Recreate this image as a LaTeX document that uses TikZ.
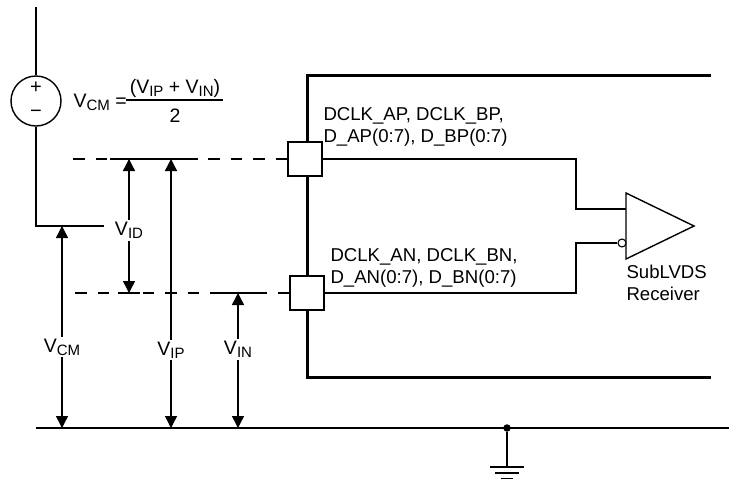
\documentclass[tikz,border=0pt]{standalone}
\usepackage{fontspec}
\setmainfont{Liberation Sans}
\usetikzlibrary{arrows.meta}
\newcommand\sbs[1]{\raisebox{-3pt}{\fontsize{15}{15}\selectfont #1}}
\newcommand\vfont{\fontsize{19.5}{22}\selectfont}
\begin{document}
\begin{tikzpicture}[x=1pt,y=-1pt,
  font=\fontsize{18.6}{22}\selectfont,
  wire/.style={line width=1.4pt},
  boxline/.style={line width=3pt},
  thickseg/.style={line width=2.6pt},
  dashline/.style={line width=2pt, dash pattern=on 11.5pt off 11pt},
  dimarrow/.style={line width=1.4pt, {Triangle[length=12pt,width=12pt]}-{Triangle[length=12pt,width=12pt]}},
  lab/.style={fill=white, inner sep=2pt, font=\vfont},
  pad/.style={draw, fill=white, line width=1.4pt, minimum size=34pt, inner sep=0pt},
]
\useasboundingbox (0,0) rectangle (729,480);

% voltage source
\node[circle, draw, wire, minimum size=50pt, inner sep=0pt] (src) at (36,101) {};
\node (plus) at (36,88) {\fontsize{20}{20}\selectfont +};
\node (minus) at (36,114) {\fontsize{20}{20}\selectfont −};
\coordinate (srctop) at (36,7);
\coordinate (srccorner) at (36,226);
\coordinate (srcend) at (104,226);
\draw[wire] (srctop) -- (src.north);
\draw[wire] (src.south) -- (srccorner) -- (srcend);
\coordinate (vcmsegA) at (43,226);
\coordinate (vcmsegB) at (79,226);
\draw[thickseg] (vcmsegA) -- (vcmsegB);

% formula
\node[anchor=west, font=\vfont] (eqL) at (70,102) {V\sbs{CM} =};
\node[font=\vfont] (num) at (175,88) {(V\sbs{IP} + V\sbs{IN})};
\coordinate (barA) at (126,100);
\coordinate (barB) at (223,100);
\draw[wire] (barA) -- (barB);
\node[font=\vfont] (den) at (175,116) {2};

% receiver box
\coordinate (boxTR) at (711,75);
\coordinate (boxTL) at (307,75);
\coordinate (boxBL) at (307,377);
\coordinate (boxBR) at (711,377);
\draw[boxline] (boxTR) -- (boxTL) -- (boxBL) -- (boxBR);

% pads
\node[pad] (padP) at (305,159) {};
\node[pad] (padN) at (307,293) {};

\node[anchor=west, align=left] (labP) at (320,127) {DCLK\_AP, DCLK\_BP,\\D\_AP(0:7), D\_BP(0:7)};
\node[anchor=west, align=left] (labN) at (327,268) {DCLK\_AN, DCLK\_BN,\\D\_AN(0:7), D\_BN(0:7)};

% receiver
\coordinate (triA) at (626,193);
\coordinate (triB) at (626,259);
\coordinate (triC) at (694,226);
\draw[wire] (triA) -- (triC) -- (triB) -- cycle;
\node[circle, draw, fill=white, line width=1.1pt, minimum size=8pt, inner sep=0pt] (bub) at (622,243) {};
\coordinate (inP) at (626,209);
\coordinate (jogP1) at (576,159);
\coordinate (jogP2) at (576,209);
\coordinate (jogN1) at (576,293);
\coordinate (jogN2) at (576,243);
\draw[wire] (padP.east) -- (jogP1) -- (jogP2) -- (inP);
\draw[wire] (padN.east) -- (jogN1) -- (jogN2) -- (bub.west);
\node[anchor=north west, align=left] (rxlab) at (623,261) {SubLVDS\\Receiver};

% dashed levels
\coordinate (dPs) at (73,159);
\coordinate (dNs) at (75,293);
\draw[dashline] (dPs) -- (padP.west);
\draw[dashline] (dNs) -- (padN.west);
\coordinate (sPa) at (110,159);
\coordinate (sPb) at (198,159);
\draw[thickseg] (sPa) -- (sPb);
\coordinate (sN1a) at (118,293);
\coordinate (sN1b) at (140,293);
\draw[thickseg] (sN1a) -- (sN1b);
\coordinate (sN2a) at (222,293);
\coordinate (sN2b) at (255,293);
\draw[thickseg] (sN2a) -- (sN2b);

% ground line
\coordinate (gndL) at (36,428);
\coordinate (gndR) at (729,428);
\draw[wire] (gndL) -- (gndR);
\coordinate (g1a) at (42,428); \coordinate (g1b) at (78,428);
\coordinate (g2a) at (152,428); \coordinate (g2b) at (188,428);
\coordinate (g3a) at (219,428); \coordinate (g3b) at (255,428);
\draw[thickseg] (g1a) -- (g1b);
\draw[thickseg] (g2a) -- (g2b);
\draw[thickseg] (g3a) -- (g3b);

% dimension arrows
\coordinate (vcmT) at (62,226); \coordinate (vcmB) at (62,428);
\coordinate (vidT) at (129,159); \coordinate (vidB) at (129,293);
\coordinate (vipT) at (171,159); \coordinate (vipB) at (171,428);
\coordinate (vinT) at (238,293); \coordinate (vinB) at (238,428);
\draw[dimarrow] (vcmT) -- node[lab, pos=0.6] (lvcm) {V\sbs{CM}} (vcmB);
\draw[dimarrow] (vidT) -- node[lab, pos=0.535] (lvid) {V\sbs{ID}} (vidB);
\draw[dimarrow] (vipT) -- node[lab, pos=0.71] (lvip) {V\sbs{IP}} (vipB);
\draw[dimarrow] (vinT) -- node[lab, pos=0.42] (lvin) {V\sbs{IN}} (vinB);

% ground symbol
\node[circle, fill, minimum size=7.5pt, inner sep=0pt] (gdot) at (507,428) {};
\coordinate (gstem) at (507,467);
\draw[wire] (gdot) -- (gstem);
\coordinate (gl1a) at (490,467); \coordinate (gl1b) at (524,467);
\coordinate (gl2a) at (495,473); \coordinate (gl2b) at (519,473);
\coordinate (gl3a) at (501,478.5); \coordinate (gl3b) at (513,478.5);
\draw[wire] (gl1a) -- (gl1b);
\draw[wire] (gl2a) -- (gl2b);
\draw[wire] (gl3a) -- (gl3b);
\end{tikzpicture}
\end{document}
